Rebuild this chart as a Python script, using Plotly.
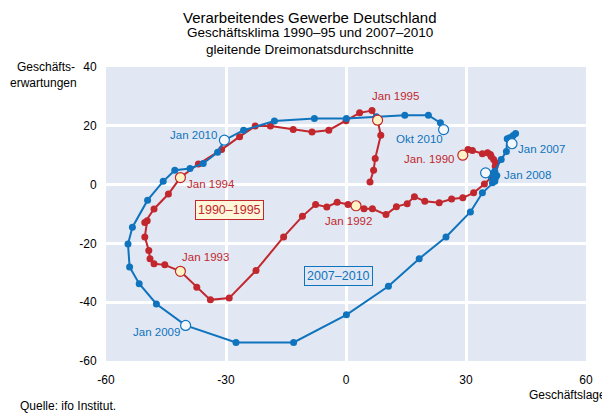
import plotly.graph_objects as go

# ---- data: Geschäftslage (x) / Geschäftserwartungen (y), 3-month moving averages ----
red_x = [29.2, 30.5, 31.6, 34.1, 35.4, 36.1, 36.3, 36.9, 37.4, 37.3, 37.0, 34.6,
         31.9, 29.2, 26.4, 23.3, 19.7, 17.1, 15.3, 12.6, 10.0, 6.6, 4.5, 2.5,
         0.5, -2.2, -4.8, -7.6, -10.9, -15.6, -22.5, -29.2, -33.9, -37.3, -41.4,
         -45.3, -48.0, -49.0, -49.3, -50.3, -49.7, -50.3, -48.0, -44.4, -41.4,
         -36.9, -31.1, -26.6, -22.7, -18.9, -13.2, -8.5, -4.3, 0.0, 3.4, 6.5, 7.9,
         8.7, 7.3, 6.9, 6.0]
red_y = [10.0, 11.9, 11.6, 10.5, 10.8, 10.2, 9.6, 8.5, 7.4, 6.2, 3.4, 0.2,
         -2.8, -4.5, -4.9, -6.2, -5.7, -4.1, -6.5, -7.5, -10.2, -8.2, -8.2, -7.2,
         -6.8, -6.0, -7.6, -6.8, -10.8, -17.8, -29.2, -38.6, -39.2, -34.9, -29.5,
         -27.3, -26.9, -25.2, -22.4, -17.8, -12.3, -12.9, -8.3, -3.2, 2.4,
         7.0, 11.9, 16.3, 19.9, 19.9, 18.7, 17.9, 18.5, 21.7, 24.4, 25.2, 21.9,
         16.8, 8.9, 4.9, 0.9]

blue_x = [41.5, 42.4, 41.8, 40.9, 40.3, 40.1, 38.8, 37.2, 37.7, 36.9, 37.4, 36.4,
          34.9, 36.6, 37.2, 34.1, 31.1, 25.0, 18.3, 10.6, 0.1, -13.1, -27.5,
          -40.1, -47.4, -51.7, -54.1, -54.5, -53.4, -49.6, -45.7, -42.8, -39.0,
          -35.7, -32.1, -30.4, -25.6, -17.9, -7.9, 0.1, 7.6, 14.7, 20.6, 23.6, 24.4]
blue_y = [13.9, 17.4, 16.7, 15.9, 15.6, 11.3, 8.5, 4.5, 3.1, 1.7, 2.4, 3.7,
          4.0, 0.6, 1.1, -2.8, -9.3, -17.8, -25.2, -34.6, -44.3, -53.7, -53.7,
          -47.9, -40.6, -33.7, -28.0, -20.2, -14.5, -5.3, 1.1, 4.9, 5.5,
          7.2, 11.0, 15.1, 18.5, 21.6, 22.5, 22.5, 23.1, 23.6, 23.6, 21.0, 18.7]

red_marks = [0, 23, 34, 44, 56]
red_labels = ["Jan. 1990", "Jan 1992", "Jan 1993", "Jan 1994", "Jan 1995"]
blue_marks = [0, 12, 23, 35, 44]
blue_labels = ["Jan 2007", "Jan 2008", "Jan 2009", "Jan 2010", "Okt 2010"]

x_ticks = [-60, -30, 0, 30, 60]
x_ticktext = ["-60", "-30", "0", "30", "60"]
y_ticks = [-60, -40, -20, 0, 20, 40]
y_ticktext = ["-60", "-40", "-20", "0", "20", "40"]

series_box = [("1990–1995", -29.2, -8.5), ("2007–2010", -1.8, -31.0)]

# ---- styling ----
RED = "#c1272d"
BLUE = "#0f73bd"
BG = "#e1e8f3"
FONT = "Liberation Sans, Arial, sans-serif"
red_shift = [(-33, -4), (-8, -15), (25, 14), (31, -6), (18, 24)]
blue_shift = [(29, -5), (42, -2), (-29, -7), (-31, 5), (-24, -9)]

fig = go.Figure()
fig.add_trace(go.Scatter(x=red_x, y=red_y, mode="lines+markers",
                         line=dict(color=RED, width=2),
                         marker=dict(color=RED, size=7), hoverinfo="skip"))
fig.add_trace(go.Scatter(x=blue_x, y=blue_y, mode="lines+markers",
                         line=dict(color=BLUE, width=2),
                         marker=dict(color=BLUE, size=7), hoverinfo="skip"))
fig.add_trace(go.Scatter(x=[red_x[i] for i in red_marks], y=[red_y[i] for i in red_marks],
                         mode="markers",
                         marker=dict(color="#fdf3c4", size=10, line=dict(color=RED, width=1.2)),
                         hoverinfo="skip"))
fig.add_trace(go.Scatter(x=[blue_x[i] for i in blue_marks], y=[blue_y[i] for i in blue_marks],
                         mode="markers",
                         marker=dict(color="#f4f7fc", size=10, line=dict(color=BLUE, width=1.2)),
                         hoverinfo="skip"))

annotations = []
for i, lab, (dx, dy) in zip(red_marks, red_labels, red_shift):
    annotations.append(dict(x=red_x[i], y=red_y[i], text=lab, showarrow=False,
                            xshift=dx, yshift=dy, font=dict(color=RED, size=11.5, family=FONT)))
for i, lab, (dx, dy) in zip(blue_marks, blue_labels, blue_shift):
    annotations.append(dict(x=blue_x[i], y=blue_y[i], text=lab, showarrow=False,
                            xshift=dx, yshift=dy, font=dict(color=BLUE, size=11.5, family=FONT)))

box_styles = [(RED, "#fdf6d8"), (BLUE, BG)]
for (txt, bx, by), (col, fill) in zip(series_box, box_styles):
    annotations.append(dict(x=bx, y=by, text=txt, showarrow=False,
                            font=dict(color=col, size=12.5, family=FONT),
                            bordercolor=col, borderwidth=1, borderpad=2, bgcolor=fill))

def pap(text, x, y, xanchor="center", size=12):
    return dict(text=text, xref="paper", yref="paper", x=x, y=y, xanchor=xanchor,
                yanchor="middle", showarrow=False, font=dict(size=size, color="#000", family=FONT))

annotations += [
    pap("Verarbeitendes Gewerbe Deutschland", 0.425, 1.170, size=15),
    pap("Geschäftsklima 1990–95 und 2007–2010", 0.425, 1.116, size=13.5),
    pap("gleitende Dreimonatsdurchschnitte", 0.425, 1.058, size=13.5),
    pap("Geschäfts-", -0.060, 1.0, xanchor="right"),
    pap("erwartungen", -0.056, 0.946, xanchor="right"),
    pap("Geschäftslage", 1.046, -0.116, xanchor="right"),
    pap("Quelle: ifo Institut.", -0.183, -0.153, xanchor="left"),
]

# page body has an 8px default margin: shrink figure and margins accordingly
fig.update_layout(
    width=602, height=406,
    margin=dict(l=98, r=24, t=59, b=53),
    paper_bgcolor="white", plot_bgcolor=BG,
    showlegend=False,
    font=dict(family=FONT, size=12, color="#000"),
    annotations=annotations,
)
fig.update_xaxes(range=[-60, 60], tickvals=x_ticks, ticktext=x_ticktext,
                 showgrid=True, gridcolor="white", gridwidth=3,
                 zeroline=False, showline=False,
                 ticks="outside", ticklen=8, tickcolor="rgba(0,0,0,0)",
                 tickfont=dict(size=12, family=FONT))
fig.update_yaxes(range=[-60, 40], tickvals=y_ticks, ticktext=y_ticktext,
                 showgrid=True, gridcolor="white", gridwidth=3,
                 zeroline=False, showline=False,
                 ticks="outside", ticklen=6, tickcolor="rgba(0,0,0,0)",
                 tickfont=dict(size=12, family=FONT))

fig.write_html("out.html")
